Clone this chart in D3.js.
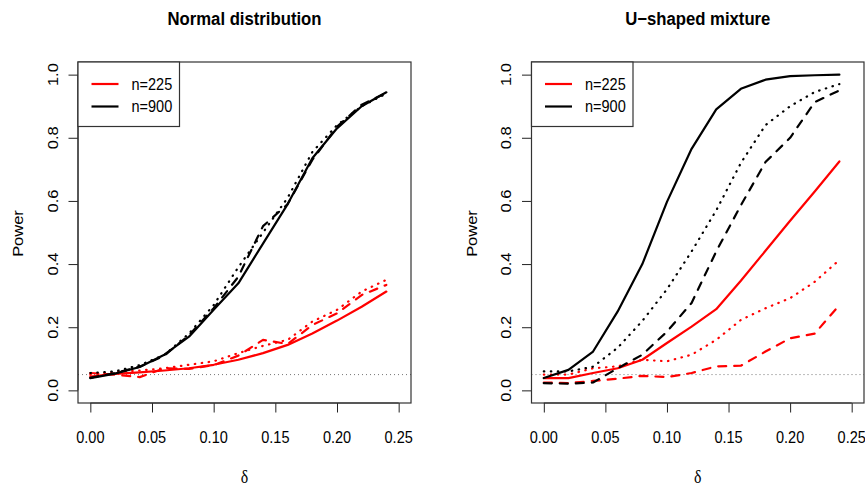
<!DOCTYPE html>
<html>
<head>
<meta charset="utf-8">
<script src="https://cdn.jsdelivr.net/npm/d3@7"></script>
<style>
  body { margin: 0; background: #fff; }
  text { font-family: "Liberation Sans", Arial, sans-serif; fill: #000; }
</style>
</head>
<body>
<svg id="chart" width="865" height="487"></svg>
<script>
// delta grid (x values)
var delta = [0, 0.02, 0.04, 0.06, 0.08, 0.10, 0.12, 0.14, 0.16, 0.18, 0.20, 0.22, 0.24];

// Normal distribution panel
var normSolid225 = [0.044, 0.052, 0.057, 0.063, 0.070, 0.081, 0.097, 0.118, 0.144, 0.180, 0.221, 0.265, 0.313];
var normDash225  = [0.055, 0.050, 0.042, 0.070, 0.068, 0.080, 0.110, 0.160, 0.147, 0.207, 0.244, 0.302, 0.334];
var normDot225   = [0.050, 0.058, 0.063, 0.070, 0.081, 0.092, 0.118, 0.141, 0.160, 0.218, 0.255, 0.313, 0.350];
var normSolid900 = [0.039, 0.053, 0.074, 0.113, 0.170, 0.255, 0.339, 0.465, 0.590, 0.735, 0.830, 0.900, 0.944];
var normDash900  = [0.040, 0.055, 0.075, 0.110, 0.175, 0.260, 0.360, 0.520, 0.590, 0.730, 0.835, 0.905, 0.942];
var normDot900   = [0.055, 0.060, 0.080, 0.112, 0.180, 0.270, 0.390, 0.500, 0.610, 0.755, 0.840, 0.900, 0.940];

// U-shaped mixture panel
var uSolid225 = [0.039, 0.039, 0.055, 0.070, 0.097, 0.150, 0.202, 0.257, 0.347, 0.442, 0.537, 0.630, 0.725];
var uDash225  = [0.025, 0.023, 0.030, 0.037, 0.046, 0.042, 0.055, 0.076, 0.078, 0.123, 0.165, 0.180, 0.270];
var uDot225   = [0.050, 0.050, 0.070, 0.076, 0.097, 0.092, 0.113, 0.160, 0.223, 0.260, 0.292, 0.344, 0.413];
var uSolid900 = [0.039, 0.065, 0.123, 0.250, 0.400, 0.597, 0.765, 0.890, 0.955, 0.984, 0.995, 0.998, 1.000];
var uDash900  = [0.023, 0.021, 0.025, 0.070, 0.113, 0.186, 0.277, 0.440, 0.586, 0.723, 0.800, 0.913, 0.950];
var uDot900   = [0.060, 0.060, 0.075, 0.135, 0.220, 0.320, 0.440, 0.570, 0.720, 0.840, 0.900, 0.945, 0.970];

var xTicks = [0, 0.05, 0.10, 0.15, 0.20, 0.25];
var yTicks = [0, 0.2, 0.4, 0.6, 0.8, 1.0];
var alpha = 0.05;
var legendLabels = ['n=225', 'n=900'];
var legendColors = ['#ff0000', '#000000'];

var svg = d3.select('#chart');
var sx = 0.88; // glyphs in the picture are a bit narrow

function label(g, x, y, str, size, opts) {
    opts = opts || {};
    var t = g.append('text')
        .attr('transform', 'translate(' + x + ',' + y + ') scale(' + sx + ',1)' + (opts.rot ? ' rotate(-90)' : ''))
        .attr('text-anchor', opts.anchor || 'middle')
        .attr('dy', '0.35em')
        .style('font-size', size + 'px')
        .text(str);
    if (opts.bold) t.style('font-weight', 'bold');
    if (opts.serif) t.style('font-family', '"Liberation Serif", "DejaVu Serif", serif');
    return t;
}

var styles = {
    solid: { w: 2.2, dash: null },
    dash:  { w: 2.2, dash: '8 8' },
    dot:   { w: 2.2, dash: '0.5 6.5' }
};

function panel(left, right, title, series) {
    var top = 62, bottom = 403;
    var x = d3.scaleLinear().domain([-0.01, 0.26]).range([left, right]);
    var y = d3.scaleLinear().domain([-0.04, 1.04]).range([bottom, top]);
    var g = svg.append('g');
    var cx = (left + right) / 2;

    // reference line at nominal level
    g.append('line')
        .attr('x1', left).attr('x2', right)
        .attr('y1', y(alpha)).attr('y2', y(alpha))
        .attr('stroke', '#777').attr('stroke-width', 1)
        .attr('stroke-dasharray', '1 3');

    var line = d3.line().x(function(d, i) { return x(delta[i]); }).y(function(d) { return y(d); });
    series.forEach(function(s) {
        g.append('path')
            .attr('d', line(s.values))
            .attr('fill', 'none')
            .attr('stroke', s.color)
            .attr('stroke-width', styles[s.lty].w)
            .attr('stroke-linecap', 'round')
            .attr('stroke-linejoin', 'round')
            .attr('stroke-dasharray', styles[s.lty].dash);
    });

    // axes
    var xa = g.append('g').attr('transform', 'translate(0,' + bottom + ')')
        .call(d3.axisBottom(x).tickValues(xTicks).tickSize(9.5).tickFormat(''));
    var ya = g.append('g').attr('transform', 'translate(' + left + ',0)')
        .call(d3.axisLeft(y).tickValues(yTicks).tickSize(9.5).tickFormat(''));
    [xa, ya].forEach(function(a) {
        a.select('.domain').remove();
        a.selectAll('line').attr('stroke', '#222').attr('stroke-width', 1);
    });
    g.append('line').attr('x1', x(0)).attr('x2', x(0.25)).attr('y1', bottom).attr('y2', bottom)
        .attr('stroke', '#222');
    g.append('line').attr('x1', left).attr('x2', left).attr('y1', y(0)).attr('y2', y(1))
        .attr('stroke', '#222');

    xTicks.forEach(function(v) { label(g, x(v), 437, d3.format('.2f')(v), 16.5); });
    yTicks.forEach(function(v) { label(g, left - 25.5, y(v), d3.format('.1f')(v), 16.5, { rot: true }); });

    // box
    g.append('rect')
        .attr('x', left).attr('y', top)
        .attr('width', right - left).attr('height', bottom - top)
        .attr('fill', 'none').attr('stroke', '#333').attr('stroke-width', 1.2);

    // titles
    label(g, cx, 18, title, 19, { bold: true });
    label(g, left - 60, (top + bottom) / 2 + 1, 'Power', 16.5, { rot: true });
    label(g, cx, 477, 'δ', 18, { serif: true });

    // legend
    var lg = g.append('g');
    lg.append('rect')
        .attr('x', left).attr('y', top)
        .attr('width', 101.5).attr('height', 64.5)
        .attr('fill', '#fff').attr('stroke', '#333').attr('stroke-width', 1.2);
    legendLabels.forEach(function(t, i) {
        var ly = 84 + i * 22.5;
        lg.append('line')
            .attr('x1', left + 13.5).attr('x2', left + 40.5)
            .attr('y1', ly).attr('y2', ly)
            .attr('stroke', legendColors[i]).attr('stroke-width', 2.2);
        label(lg, left + 53.5, ly, t, 16.5, { anchor: 'start' });
    });
}

panel(78, 411, 'Normal distribution', [
    { values: normSolid225, color: '#ff0000', lty: 'solid' },
    { values: normDash225,  color: '#ff0000', lty: 'dash' },
    { values: normDot225,   color: '#ff0000', lty: 'dot' },
    { values: normSolid900, color: '#000000', lty: 'solid' },
    { values: normDash900,  color: '#000000', lty: 'dash' },
    { values: normDot900,   color: '#000000', lty: 'dot' }
]);

panel(531.5, 864, 'U\u2212shaped mixture', [
    { values: uSolid225, color: '#ff0000', lty: 'solid' },
    { values: uDash225,  color: '#ff0000', lty: 'dash' },
    { values: uDot225,   color: '#ff0000', lty: 'dot' },
    { values: uSolid900, color: '#000000', lty: 'solid' },
    { values: uDash900,  color: '#000000', lty: 'dash' },
    { values: uDot900,   color: '#000000', lty: 'dot' }
]);
</script>
</body>
</html>
